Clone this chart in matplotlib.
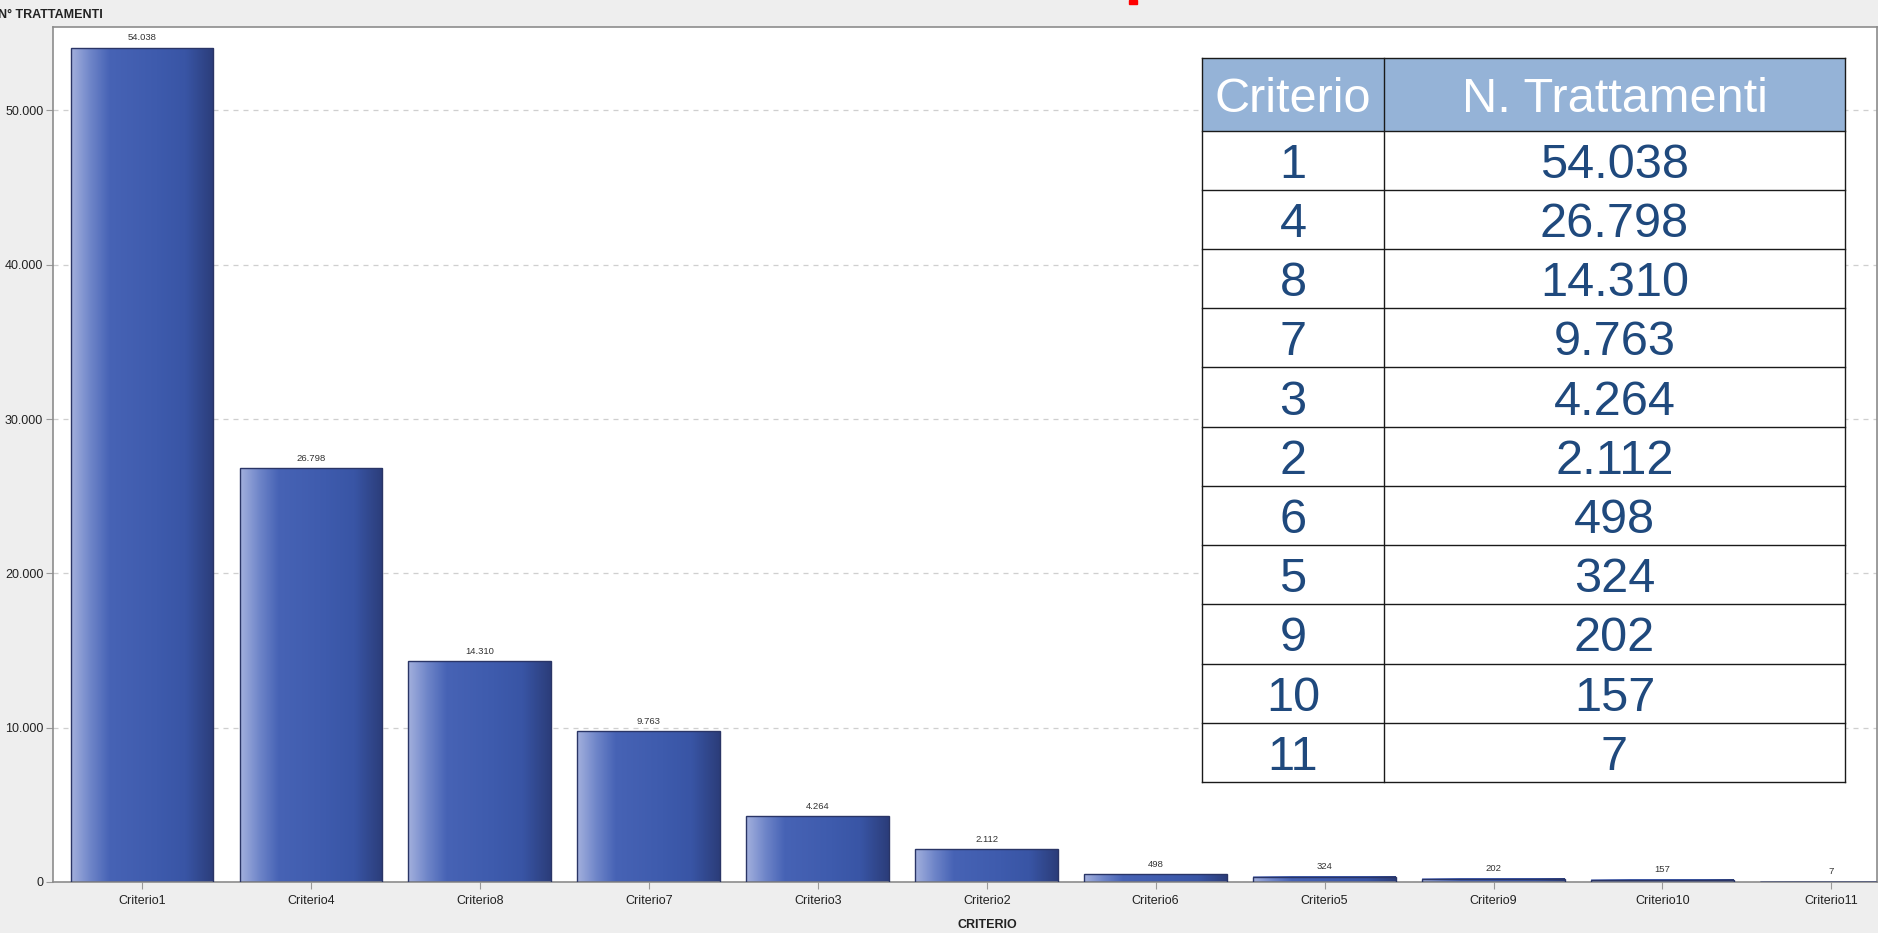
import numpy as np
import matplotlib
matplotlib.use("Agg")
from matplotlib import pyplot as plt
from matplotlib import font_manager
from matplotlib.colors import LinearSegmentedColormap
from matplotlib.patches import Rectangle

# data
criteri = ["1", "4", "8", "7", "3", "2", "6", "5", "9", "10", "11"]
trattamenti = [54038, 26798, 14310, 9763, 4264, 2112, 498, 324, 202, 157, 7]
y_ticks = [0, 10000, 20000, 30000, 40000, 50000]
header = ["Criterio", "N. Trattamenti"]


def it_num(v):
    return f"{v:,}".replace(",", ".")


# fonts: narrow Arial look for the chart if we have it
names = {f.name for f in font_manager.fontManager.ttflist}
if "Liberation Sans Narrow" in names:
    chart_font, fs = "Liberation Sans Narrow", 10.5
else:
    chart_font, fs = "Liberation Sans", 9
table_font = ["Liberation Sans", "DejaVu Sans"]
plt.rcParams["font.family"] = [chart_font, "DejaVu Sans"]

W, H = 1878, 933
fig = plt.figure(figsize=(W / 100, H / 100), dpi=100, facecolor="#eeeeee")


def px_box(left, top, right, bottom):
    return [left / W, 1 - bottom / H, (right - left) / W, (bottom - top) / H]


# main chart
ax = fig.add_axes(px_box(53, 27, 1877, 882))
ax.set_facecolor("white")
x = np.arange(len(criteri))
bars = ax.bar(x, trattamenti, width=0.846, facecolor="none",
              edgecolor="#2a3566", linewidth=1.0, zorder=3)

grad_cmap = LinearSegmentedColormap.from_list("bar", [
    (0.0, "#a3b0dd"), (0.14, "#6d84c8"), (0.27, "#4763b5"),
    (0.6, "#3e5bad"), (0.8, "#3955a5"), (1.0, "#2b3d7a")])
grad = np.linspace(0, 1, 256).reshape(1, -1)
for b in bars:
    x0, y0 = b.get_xy()
    ax.imshow(grad, extent=[x0, x0 + b.get_width(), y0, y0 + b.get_height()],
              aspect="auto", cmap=grad_cmap, zorder=2, interpolation="bilinear")

ax.bar_label(bars, labels=[it_num(v) for v in trattamenti], padding=4,
             fontsize=fs * 0.76, color="#333333")

ax.set_xlim(-0.527, 10.27)
ax.set_ylim(0, 55400)
ax.set_xticks(x, [f"Criterio{c}" for c in criteri])
ax.set_yticks(y_ticks, [it_num(t) for t in y_ticks])
ax.tick_params(axis="both", length=5, color="#999999", labelsize=fs,
               labelcolor="#222222")
ax.tick_params(axis="x", pad=4)
ax.tick_params(axis="y", pad=2)
ax.grid(axis="y", color="#cfcfcf", linestyle=(0, (4, 4)), linewidth=0.9, zorder=0)
for s in ax.spines.values():
    s.set_color("#8c8c8c")
    s.set_linewidth(1.2)

ax.set_xlabel("CRITERIO", fontweight="bold", fontsize=fs, color="#222222",
              labelpad=9)
ax.xaxis.label.set_x(0.512)
fig.text(-0.001, 1 - 15 / H, "N° TRATTAMENTI", fontweight="bold", fontsize=fs,
         color="#222222", ha="left", va="center")

# cropped red mark at the top edge
fig.patches.append(Rectangle((1129 / W, 1 - 4 / H), 8 / W, 4 / H,
                             transform=fig.transFigure, color="red"))

# table
tx = fig.add_axes(px_box(1202, 57.5, 1845, 782))
tx.set_axis_off()
tw, th = 643, 724.5
col_split = 182
head_h = 73
row_h = (th - head_h) / len(criteri)
tx.set_xlim(0, tw)
tx.set_ylim(th, 0)
line_c = "#1a1a1a"

tx.add_patch(Rectangle((0, 0), tw, head_h, facecolor="#95b3d7",
                       edgecolor="none"))
tx.add_patch(Rectangle((0, head_h), tw, th - head_h, facecolor="white",
                       edgecolor="none"))
tx.text(col_split / 2, head_h / 2, header[0], color="white", fontsize=35,
        family=table_font, ha="center", va="center_baseline")
tx.text((col_split + tw) / 2, head_h / 2, header[1], color="white", fontsize=35,
        family=table_font, ha="center", va="center_baseline")
for i, (c, v) in enumerate(zip(criteri, trattamenti)):
    yc = head_h + (i + 0.5) * row_h
    tx.text(col_split / 2, yc, c, color="#1f497d", fontsize=35,
            family=table_font, ha="center", va="center_baseline")
    tx.text((col_split + tw) / 2, yc, it_num(v), color="#1f497d", fontsize=35,
            family=table_font, ha="center", va="center_baseline")

for i in range(len(criteri) + 1):
    yl = head_h + i * row_h
    tx.plot([0, tw], [yl, yl], color=line_c, lw=1.0, clip_on=False)
tx.plot([0, tw], [0, 0], color=line_c, lw=1.0, clip_on=False)
for xl in [0, col_split, tw]:
    tx.plot([xl, xl], [0, th], color=line_c, lw=1.0, clip_on=False)

fig.savefig("out.png", dpi=100, facecolor=fig.get_facecolor())
